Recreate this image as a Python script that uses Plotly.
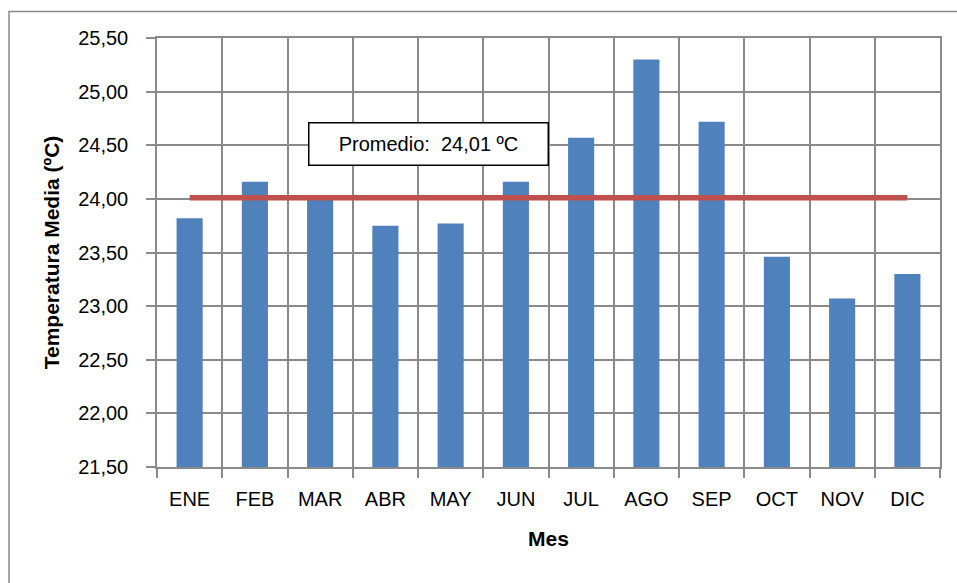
import plotly.graph_objects as go

# Monthly mean temperature (ºC)
meses = ["ENE", "FEB", "MAR", "ABR", "MAY", "JUN", "JUL", "AGO", "SEP", "OCT", "NOV", "DIC"]
temperatura = [23.82, 24.16, 24.03, 23.75, 23.77, 24.16, 24.57, 25.30, 24.72, 23.46, 23.07, 23.30]
promedio = 24.01

y_ticks = [21.5, 22.0, 22.5, 23.0, 23.5, 24.0, 24.5, 25.0, 25.5]

FONT = "Liberation Sans, Arial, sans-serif"
GRID = "#8a8a8a"

fig = go.Figure()

fig.add_trace(go.Bar(
    x=meses,
    y=temperatura,
    marker=dict(color="#4F81BD", line=dict(width=0)),
    showlegend=False,
))

fig.add_trace(go.Scatter(
    x=meses,
    y=[promedio] * len(meses),
    mode="lines",
    line=dict(color="#C0504D", width=5.5),
    showlegend=False,
))

fig.update_layout(
    width=957,
    height=583,
    margin=dict(l=157, r=17, t=38, b=116),
    paper_bgcolor="white",
    plot_bgcolor="white",
    bargap=0.6,
    separators=",.",
    font=dict(family=FONT, size=20, color="#000000"),
    shapes=[
        # outer chart frame
        dict(type="rect", xref="paper", yref="paper",
             x0=-0.189, x1=1.03, y0=-0.3, y1=1.062,
             line=dict(color="#8a8a8a", width=1.5), fillcolor="rgba(0,0,0,0)",
             layer="below"),
    ],
    annotations=[
        dict(
            xref="paper", yref="paper",
            x=0.347, y=0.7536,
            xanchor="center", yanchor="middle",
            text="Promedio:  " + f"{promedio:.2f}".replace(".", ",") + " ºC",
            showarrow=False,
            font=dict(family=FONT, size=20, color="#000000"),
            bgcolor="white",
            bordercolor="#000000",
            borderwidth=1.5,
            borderpad=0,
            width=238,
            height=41,
        )
    ],
)

fig.update_xaxes(
    type="category",
    tickson="boundaries",
    showgrid=True,
    gridcolor=GRID,
    gridwidth=1.5,
    showline=True,
    linecolor=GRID,
    linewidth=1.5,
    mirror=True,
    ticks="outside",
    ticklen=9,
    tickwidth=1.5,
    tickcolor=GRID,
    ticklabelstandoff=13,
    tickfont=dict(family=FONT, size=20, color="#000000"),
    title=dict(text="<b>Mes</b>", font=dict(family=FONT, size=21, color="#000000"), standoff=23),
)

fig.update_yaxes(
    range=[21.5, 25.5],
    tickvals=y_ticks,
    tickformat=".2f",
    showgrid=True,
    gridcolor=GRID,
    gridwidth=1.5,
    showline=True,
    linecolor=GRID,
    linewidth=1.5,
    mirror=True,
    ticks="outside",
    ticklen=9,
    tickwidth=1.5,
    tickcolor=GRID,
    ticklabelstandoff=14,
    zeroline=False,
    tickfont=dict(family=FONT, size=20, color="#000000"),
    title=dict(text="<b>Temperatura Media (ºC)</b>", font=dict(family=FONT, size=21, color="#000000"), standoff=13),
)

fig.write_html("out.html")
